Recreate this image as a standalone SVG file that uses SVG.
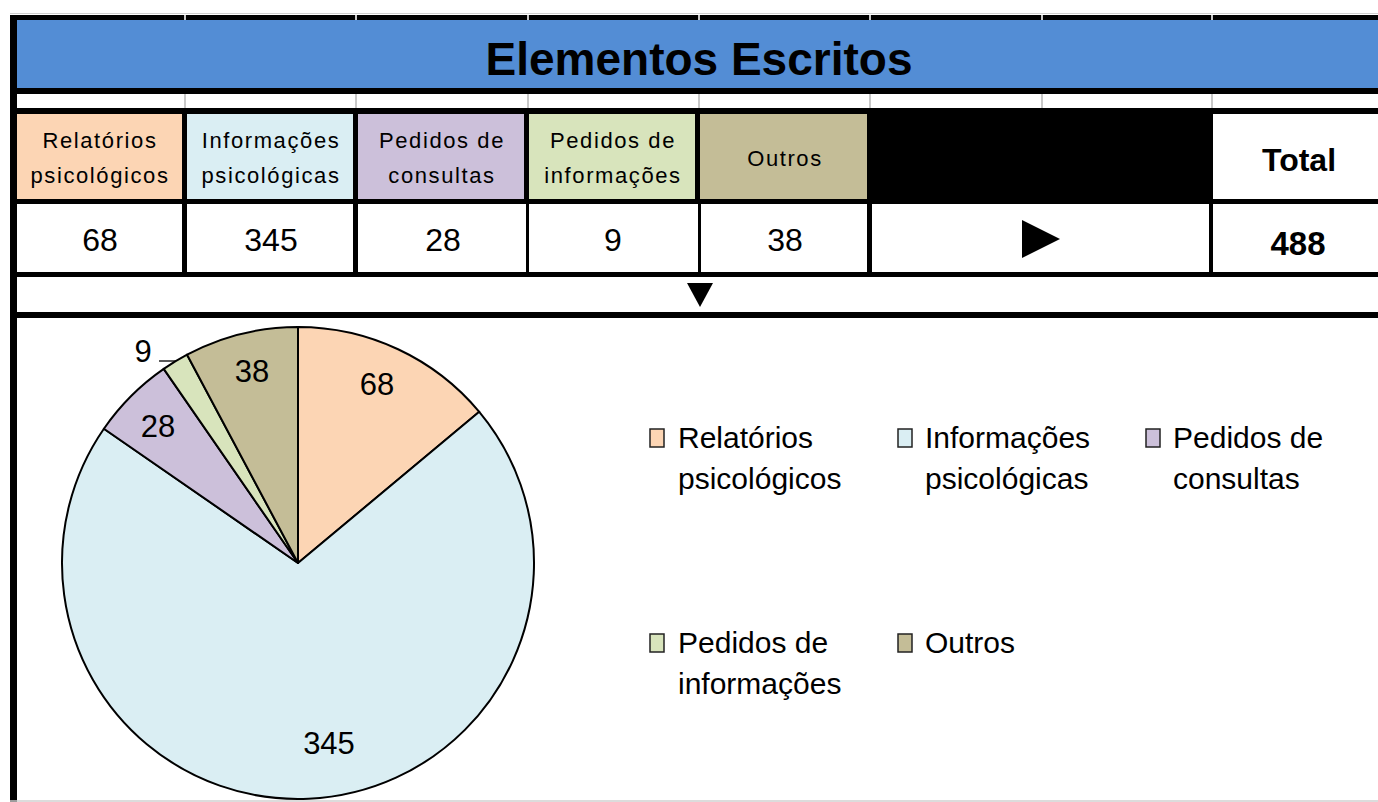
<svg xmlns="http://www.w3.org/2000/svg" width="1378" height="802" viewBox="0 0 1378 802">
<style>
.hdr{font-family:"Liberation Sans",Arial,sans-serif;font-size:22px;letter-spacing:1.6px;text-anchor:middle;fill:#000}
.val{font-family:"Liberation Sans",Arial,sans-serif;font-size:32px;text-anchor:middle;fill:#000}
.bold{font-family:"Liberation Sans",Arial,sans-serif;font-weight:bold;text-anchor:middle;fill:#000}
.pl{font-family:"Liberation Sans",Arial,sans-serif;font-size:31px;text-anchor:middle;fill:#000}
.lg{font-family:"Liberation Sans",Arial,sans-serif;font-size:30px;fill:#000}
.sl{stroke:#000;stroke-width:2;stroke-linejoin:round}
.sq{stroke:#222;stroke-width:1.5}
.grid{stroke:#c8c8c8;stroke-width:2}
</style>
<rect x="0" y="0" width="1378" height="802" fill="#fff"/>
<g id="frame">
  <line x1="10" y1="13.5" x2="1378" y2="13.5" stroke="#cfcfcf" stroke-width="1"/>
  <rect x="10" y="15" width="1368" height="5" fill="#000"/>
  <rect id="title-bar" x="17" y="20" width="1361" height="68" fill="#538DD5"/>
  <rect x="10" y="88" width="1368" height="6" fill="#000"/>
  <rect x="10" y="108" width="1368" height="96" fill="#000"/>
  <rect x="10" y="199" width="1368" height="78" fill="#000"/>
  <rect x="17" y="277" width="1361" height="35" fill="#fff"/>
  <rect x="10" y="312" width="1368" height="6" fill="#000"/>
  <rect x="10" y="15" width="7" height="787" fill="#000"/>
  <line x1="10" y1="801" x2="1378" y2="801" stroke="#d0d0d0" stroke-width="1.5"/>
  <g class="grid">
    <line x1="185" y1="94" x2="185" y2="108"/><line x1="356" y1="94" x2="356" y2="108"/>
    <line x1="528" y1="94" x2="528" y2="108"/><line x1="699" y1="94" x2="699" y2="108"/>
    <line x1="870" y1="94" x2="870" y2="108"/><line x1="1042" y1="94" x2="1042" y2="108"/>
    <line x1="1212" y1="94" x2="1212" y2="108"/>
    <line x1="185" y1="15" x2="185" y2="20"/><line x1="356" y1="15" x2="356" y2="20"/>
    <line x1="528" y1="15" x2="528" y2="20"/><line x1="699" y1="15" x2="699" y2="20"/>
    <line x1="870" y1="15" x2="870" y2="20"/><line x1="1042" y1="15" x2="1042" y2="20"/>
    <line x1="1212" y1="15" x2="1212" y2="20"/>
  </g>
</g>
<g id="title">
  <text class="bold" x="699" y="75" font-size="46">Elementos Escritos</text>
</g>
<g id="h-relatorios">
  <rect x="17" y="114" width="165" height="85" fill="#FCD5B4"/>
  <text class="hdr" x="100" y="148">Relatórios</text>
  <text class="hdr" x="100" y="183">psicológicos</text>
</g>
<g id="h-informacoes">
  <rect x="187" y="114" width="166" height="85" fill="#DAEEF3"/>
  <text class="hdr" x="271" y="148">Informações</text>
  <text class="hdr" x="271" y="183">psicológicas</text>
</g>
<g id="h-consultas">
  <rect x="358" y="114" width="166" height="85" fill="#CCC0DA"/>
  <text class="hdr" x="442" y="148">Pedidos de</text>
  <text class="hdr" x="442" y="183">consultas</text>
</g>
<g id="h-pedinfo">
  <rect x="529" y="114" width="166" height="85" fill="#D8E4BC"/>
  <text class="hdr" x="613" y="148">Pedidos de</text>
  <text class="hdr" x="613" y="183">informações</text>
</g>
<g id="h-outros">
  <rect x="700" y="114" width="167" height="85" fill="#C4BD97"/>
  <text class="hdr" x="785" y="166">Outros</text>
</g>
<g id="h-total">
  <rect x="1213" y="114" width="165" height="85" fill="#fff"/>
  <text class="bold" x="1299" y="171" font-size="32">Total</text>
</g>
<g id="v-relatorios">
  <rect x="17" y="204" width="165" height="68" fill="#fff"/>
  <text class="val" x="100" y="251">68</text>
</g>
<g id="v-informacoes">
  <rect x="187" y="204" width="166" height="68" fill="#fff"/>
  <text class="val" x="271" y="251">345</text>
</g>
<g id="v-consultas">
  <rect x="358" y="204" width="168" height="68" fill="#fff"/>
  <text class="val" x="443" y="251">28</text>
</g>
<g id="v-pedinfo">
  <rect x="529" y="204" width="169" height="68" fill="#fff"/>
  <text class="val" x="613" y="251">9</text>
</g>
<g id="v-outros">
  <rect x="701" y="204" width="166" height="68" fill="#fff"/>
  <text class="val" x="785" y="251">38</text>
</g>
<g id="v-arrow">
  <rect x="872" y="204" width="337" height="68" fill="#fff"/>
  <polygon points="1022,220 1022,258 1060,239" fill="#000"/>
</g>
<g id="v-total">
  <rect x="1213" y="204" width="165" height="68" fill="#fff"/>
  <text class="bold" x="1298" y="255" font-size="33">488</text>
</g>
<g id="down-arrow">
  <polygon points="687,283 713,283 700,307" fill="#000"/>
</g>
<g id="pie">
  <path id="s-relatorios" class="sl" fill="#FCD5B4" d="M298,563 L298,327 A236,236 0 0 1 479.25,411.84 Z"/>
  <path id="s-informacoes" class="sl" fill="#DAEEF3" d="M298,563 L479.25,411.84 A236,236 0 1 1 103.91,428.74 Z"/>
  <path id="s-consultas" class="sl" fill="#CCC0DA" d="M298,563 L103.91,428.74 A236,236 0 0 1 163.74,368.91 Z"/>
  <path id="s-pedinfo" class="sl" fill="#D8E4BC" d="M298,563 L163.74,368.91 A236,236 0 0 1 187.08,354.68 Z"/>
  <path id="s-outros" class="sl" fill="#C4BD97" d="M298,563 L187.08,354.68 A236,236 0 0 1 298,327 Z"/>
</g>
<g id="pie-labels">
  <text class="pl" x="377" y="395">68</text>
  <text class="pl" x="329" y="754">345</text>
  <text class="pl" x="158" y="437">28</text>
  <text class="pl" x="252" y="382">38</text>
  <text class="pl" x="143" y="362">9</text>
</g>
<g id="connectors">
  <line x1="159" y1="361" x2="176" y2="361" stroke="#000" stroke-width="1.3"/>
</g>
<g id="lg-relatorios">
  <rect class="sq" x="650" y="429" width="14" height="18" fill="#FCD5B4"/>
  <text class="lg" x="678" y="448">Relatórios</text>
  <text class="lg" x="678" y="489">psicológicos</text>
</g>
<g id="lg-informacoes">
  <rect class="sq" x="898" y="429" width="14" height="18" fill="#DAEEF3"/>
  <text class="lg" x="925" y="448">Informações</text>
  <text class="lg" x="925" y="489">psicológicas</text>
</g>
<g id="lg-consultas">
  <rect class="sq" x="1146" y="429" width="14" height="18" fill="#CCC0DA"/>
  <text class="lg" x="1173" y="448">Pedidos de</text>
  <text class="lg" x="1173" y="489">consultas</text>
</g>
<g id="lg-pedinfo">
  <rect class="sq" x="650" y="634" width="14" height="18" fill="#D8E4BC"/>
  <text class="lg" x="678" y="653">Pedidos de</text>
  <text class="lg" x="678" y="694">informações</text>
</g>
<g id="lg-outros">
  <rect class="sq" x="898" y="634" width="14" height="18" fill="#C4BD97"/>
  <text class="lg" x="925" y="653">Outros</text>
</g>
</svg>
